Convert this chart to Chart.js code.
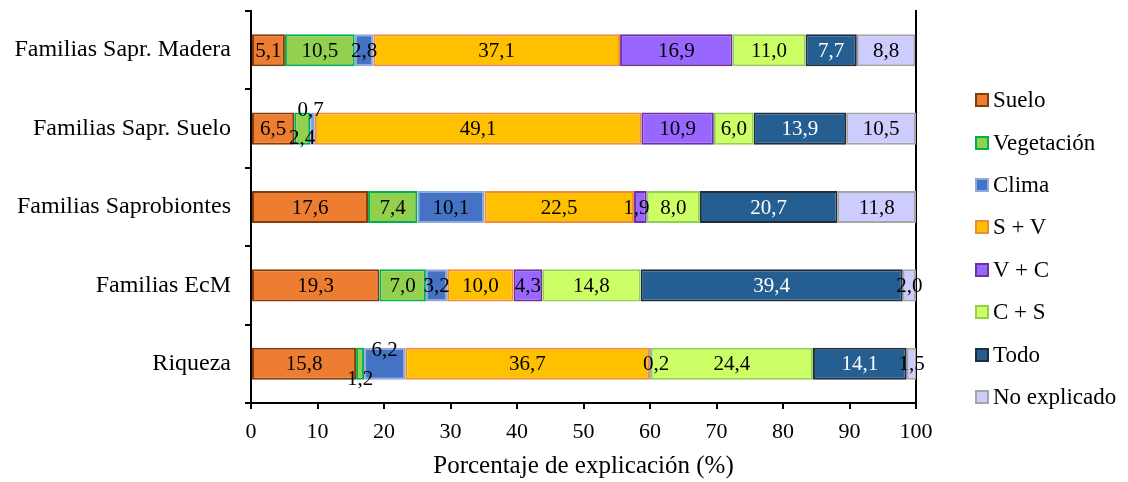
<!DOCTYPE html>
<html lang="es">
<head>
<meta charset="utf-8">
<title>Porcentaje de explicación</title>
<script src="https://cdn.jsdelivr.net/npm/chart.js@4.4.1/dist/chart.umd.min.js"></script>
<style>
  html, body { margin: 0; padding: 0; background: #ffffff; }
  #wrap { position: relative; width: 1128px; height: 482px; }
  #leyenda {
    position: absolute; left: 975px; top: 79px;
    font-family: 'Liberation Serif', 'Times New Roman', serif;
    font-size: 23px; color: #000;
  }
  #leyenda .item { display: flex; align-items: center; height: 42.4px; white-space: nowrap; }
  #leyenda .caja { width: 14px; height: 14px; box-sizing: border-box; border: 2px solid; margin-right: 4px; }
</style>
</head>
<body>
<div id="wrap"><canvas id="chart"></canvas><div id="leyenda"></div></div>
<script>
// Grupos (eje Y)
const categorias = [
  'Familias Sapr. Madera',
  'Familias Sapr. Suelo',
  'Familias Saprobiontes',
  'Familias EcM',
  'Riqueza'
];

// Fracciones de la partición de varianza (%)
const suelo       = [5.1, 6.5, 17.6, 19.3, 15.8];
const vegetacion  = [10.5, 2.4, 7.4, 7.0, 1.2];
const clima       = [2.8, 0.7, 10.1, 3.2, 6.2];
const sueloVeg    = [37.1, 49.1, 22.5, 10.0, 36.7];
const vegClima    = [16.9, 10.9, 1.9, 4.3, 0.2];
const climaSuelo  = [11.0, 6.0, 8.0, 14.8, 24.4];
const todo        = [7.7, 13.9, 20.7, 39.4, 14.1];
const noExplicado = [8.8, 10.5, 11.8, 2.0, 1.5];

// Marcas del eje X
const ticksX = [0, 10, 20, 30, 40, 50, 60, 70, 80, 90, 100];

const SERIF = "'Liberation Serif', 'Times New Roman', serif";

const series = [
  { label: 'Suelo',        data: suelo,       bg: '#ED7D31', border: '#843C0C', text: '#000000' },
  { label: 'Vegetación',   data: vegetacion,  bg: '#92D050', border: '#00B050', text: '#000000' },
  { label: 'Clima',        data: clima,       bg: '#4472C4', border: '#8FAADC', text: '#000000' },
  { label: 'S + V',        data: sueloVeg,    bg: '#FFC000', border: '#F08A3C', text: '#000000' },
  { label: 'V + C',        data: vegClima,    bg: '#9966FF', border: '#7030A0', text: '#000000' },
  { label: 'C + S',        data: climaSuelo,  bg: '#CCFF66', border: '#92D050', text: '#000000' },
  { label: 'Todo',         data: todo,        bg: '#255E91', border: '#1F2D3F', text: '#FFFFFF' },
  { label: 'No explicado', data: noExplicado, bg: '#CCCCFF', border: '#A6A6A6', text: '#000000' }
];

// Desplazamientos de etiquetas que se solapan en segmentos estrechos: "serie-grupo": [dx, dy]
const desplazamientos = {
  '2-1': [-2, -19],
  '1-1': [0, 9],
  '2-4': [0, -14],
  '1-4': [0, 15],
  '4-4': [6, 0],
  '4-2': [-4, 0]
};

const fmt = v => v.toFixed(1).replace('.', ',');

// Etiquetas de valor dentro de cada segmento
const etiquetasValor = {
  id: 'etiquetasValor',
  afterDatasetsDraw(chart) {
    const ctx = chart.ctx;
    ctx.save();
    ctx.font = '21px ' + SERIF;
    ctx.textAlign = 'center';
    ctx.textBaseline = 'middle';
    chart.data.datasets.forEach((ds, i) => {
      const meta = chart.getDatasetMeta(i);
      meta.data.forEach((bar, j) => {
        const v = ds.data[j];
        const cx = (bar.x + bar.base) / 2;
        const off = desplazamientos[i + '-' + j] || [0, 0];
        ctx.fillStyle = series[i].text;
        ctx.fillText(fmt(v), cx + off[0], bar.y + off[1] + 1);
      });
    });
    ctx.restore();
  }
};

// Leyenda a la derecha
const leyenda = document.getElementById('leyenda');
series.forEach(s => {
  const item = document.createElement('div');
  item.className = 'item';
  const caja = document.createElement('span');
  caja.className = 'caja';
  caja.style.background = s.bg;
  caja.style.borderColor = s.border;
  const txt = document.createElement('span');
  txt.textContent = s.label;
  item.appendChild(caja);
  item.appendChild(txt);
  leyenda.appendChild(item);
});

new Chart(document.getElementById('chart'), {
  type: 'bar',
  data: {
    labels: categorias,
    datasets: series.map(s => ({
      label: s.label,
      data: s.data,
      backgroundColor: s.bg,
      borderColor: s.border,
      borderWidth: 2,
      borderSkipped: false,
      categoryPercentage: 1,
      barPercentage: 0.41
    }))
  },
  options: {
    indexAxis: 'y',
    responsive: true,
    maintainAspectRatio: false,
    animation: false,
    layout: { padding: { left: 0, right: 212, top: 11, bottom: 1 } },
    plugins: {
      tooltip: { enabled: false },
      legend: { display: false }
    },
    scales: {
      x: {
        stacked: true,
        min: 0,
        max: 100,
        afterBuildTicks: axis => { axis.ticks = ticksX.map(v => ({ value: v })); },
        afterFit: axis => { axis.height = 78; },
        ticks: {
          font: { family: SERIF, size: 22 },
          color: '#000000',
          padding: 10,
          maxRotation: 0
        },
        grid: {
          drawOnChartArea: false,
          drawTicks: true,
          tickLength: 6,
          color: '#000000',
          lineWidth: 2
        },
        border: { display: true, color: '#000000', width: 2 },
        title: {
          display: true,
          text: 'Porcentaje de explicación (%)',
          font: { family: SERIF, size: 25 },
          color: '#000000',
          padding: { top: 0, bottom: 0 }
        }
      },
      y: {
        stacked: true,
        afterFit: axis => {
          axis.width = 251;
          axis.paddingTop = 0;
          axis.paddingBottom = 0;
        },
        ticks: {
          font: { family: SERIF, size: 24 },
          color: '#000000',
          padding: 14
        },
        grid: {
          offset: true,
          drawOnChartArea: false,
          drawTicks: true,
          tickLength: 6,
          color: '#000000',
          lineWidth: 2
        },
        border: { display: true, color: '#000000', width: 2 }
      },
      yDerecha: {
        type: 'category',
        position: 'right',
        labels: categorias,
        afterFit: axis => {
          axis.width = 0;
          axis.paddingTop = 0;
          axis.paddingBottom = 0;
        },
        ticks: { display: false },
        grid: { display: false },
        border: { display: true, color: '#000000', width: 2 }
      }
    }
  },
  plugins: [etiquetasValor]
});
</script>
</body>
</html>
